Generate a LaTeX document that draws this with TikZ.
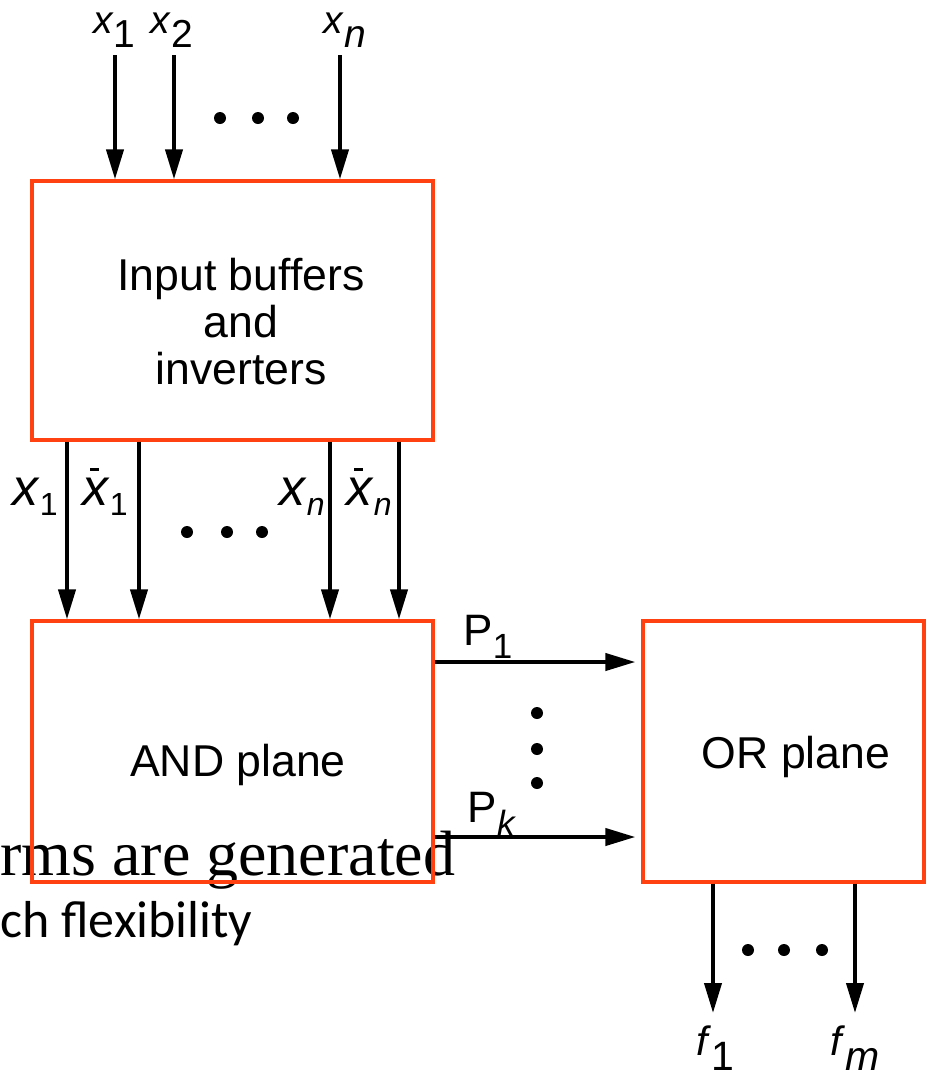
\documentclass[tikz,border=0pt]{standalone}
\usepackage{fontspec}
\setmainfont{Liberation Sans}
\newfontfamily\slideserif{Liberation Serif}
\newfontfamily\slidesans{Carlito}
\usetikzlibrary{arrows.meta}

\definecolor{planered}{RGB}{255,64,16}

% signal names with a lowered index
\newcommand{\sig}[2]{\textit{#1}\raisebox{-0.37em}{#2}}
\newcommand{\lsig}[2]{\textit{#1}\raisebox{-5pt}{\fontsize{16}{18}\selectfont #2}}
\newcommand{\nsig}[2]{\textit{#1}\llap{\rule[0.66em]{0.18em}{0.06em}\hspace{0.2em}}\raisebox{-5pt}{\fontsize{16}{18}\selectfont #2}}
\newcommand{\prodterm}[1]{P\raisebox{-0.3em}{\fontsize{17.5}{20}\selectfont #1}}

\begin{document}
\begin{tikzpicture}[
    x=0.5pt, y=-0.5pt,
    >={Triangle[length=15pt,width=8.5pt]},
    planebox/.style={
        draw=planered,
        line width=1.6pt,
        inner sep=0pt
    },
    planetext/.style={
        font=\fontsize{22.3}{23.5}\selectfont,
        align=center
    },
    sigline/.style={
        ->,
        line width=2pt
    },
    siglabel/.style={
        font=\fontsize{19.5}{22}\selectfont,
        anchor=base,
        inner sep=0pt
    },
    linelabel/.style={
        font=\fontsize{26}{28}\selectfont,
        anchor=base,
        inner sep=0pt
    },
    prodlabel/.style={
        font=\fontsize{22}{24}\selectfont,
        anchor=base,
        inner sep=0pt
    }
]
\useasboundingbox (0,0) rectangle (930,1078);

% ============ SLIDE TEXT BEHIND ============
\node[font=\slideserif\fontsize{32}{36}\selectfont, anchor=base west, inner sep=0pt] (slidea) at (0,875) {rms are generated};
\node[font=\slidesans\fontsize{26}{30}\selectfont, anchor=base west, inner sep=0pt] (slideb) at (0,937) {ch flexibility};

% ============ BLOCKS ============
\node[planebox, minimum width=200.5pt, minimum height=129.5pt] (inbuf) at (232.5,310.5) {};
\node[planebox, minimum width=200.5pt, minimum height=130.5pt] (andpl) at (232.5,751.5) {};
\node[planebox, minimum width=140.5pt, minimum height=130.5pt] (orpl) at (783.5,751.5) {};

\node[planetext] (inbuftxt) at (241,322) {Input buffers\\and\\inverters};
\node[planetext] (andtxt) at (238,765) {AND plane};
\node[planetext] (ortxt) at (796,757) {OR plane};

% ============ INPUTS ============
\node[siglabel] (inlbla) at (114.5,33) {\sig{x}{1}};
\node[siglabel] (inlblb) at (172,33) {\sig{x}{2}};
\node[siglabel] (inlbln) at (345,33) {\sig{x}{\textit{n}}};

\coordinate (ina) at (115,55);
\coordinate (inb) at (174,55);
\coordinate (inn) at (340,55);
\draw[sigline] (ina) -- (ina |- inbuf.north);
\draw[sigline] (inb) -- (inb |- inbuf.north);
\draw[sigline] (inn) -- (inn |- inbuf.north);

\foreach \xx in {220,258,293}
    \fill (\xx,118) circle (3pt);

% ============ TRUE / COMPLEMENT LINES ============
\foreach \xx in {67,139,330,399} {
    \coordinate (tap) at (\xx,0);
    \draw[sigline] (tap |- inbuf.south) -- (tap |- andpl.north);
}

\node[linelabel] (tlbla) at (35,505) {\lsig{x}{1}};
\node[linelabel] (clbla) at (105,505) {\nsig{x}{1}};
\node[linelabel] (tlbln) at (302,505) {\lsig{x}{\textit{n}}};
\node[linelabel] (clbln) at (369,505) {\nsig{x}{\textit{n}}};

\foreach \xx in {187,227,262}
    \fill (\xx,532) circle (3pt);

% ============ PRODUCT TERMS ============
\coordinate (prowa) at (0,662);
\coordinate (prowk) at (0,837);
\draw[sigline, shorten >=3pt] (prowa -| andpl.east) -- (prowa -| orpl.west);
\draw[sigline, shorten >=3pt] (prowk -| andpl.east) -- (prowk -| orpl.west);

\node[prodlabel] (plbla) at (488,645) {\prodterm{1}};
\node[prodlabel] (plblk) at (492,822) {\prodterm{\textit{k}}};

\foreach \yy in {713,749,783}
    \fill (537,\yy) circle (3pt);

% ============ OUTPUTS ============
\coordinate (outa) at (713,1013);
\coordinate (outm) at (855,1013);
\draw[sigline] (outa |- orpl.south) -- (outa);
\draw[sigline] (outm |- orpl.south) -- (outm);

\node[siglabel, font=\fontsize{20.5}{22}\selectfont] (outlbla) at (715,1055) {\sig{f}{1}};
\node[siglabel, font=\fontsize{20.5}{22}\selectfont] (outlblm) at (855,1055) {\sig{f}{\textit{m}}};

\foreach \xx in {748,784,822}
    \fill (\xx,950) circle (3pt);

\end{tikzpicture}
\end{document}
